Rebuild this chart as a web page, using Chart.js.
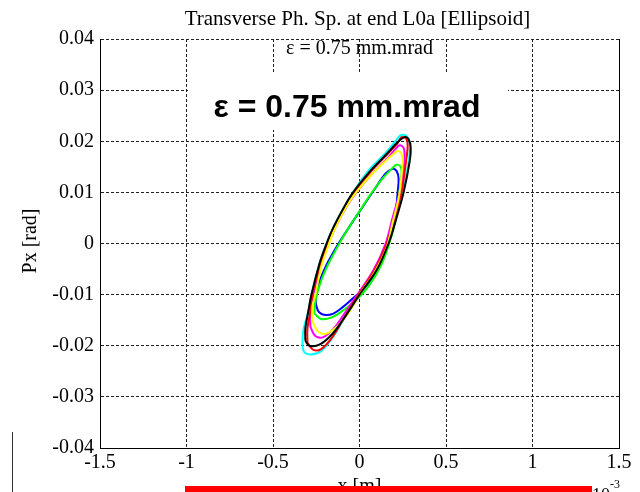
<!DOCTYPE html>
<html>
<head>
<meta charset="utf-8">
<script src="https://cdn.jsdelivr.net/npm/chart.js@4"></script>
<style>
html, body { margin: 0; padding: 0; background: #fff; }
#wrap { position: relative; width: 640px; height: 492px; }
</style>
</head>
<body>
<div id="wrap"><canvas id="phaseChart" width="640" height="492"></canvas></div>
<script>
// x in units of 1e-3 m (axis multiplier shown bottom right), y in rad
const xTicks = [-1.5, -1, -0.5, 0, 0.5, 1, 1.5];
const xTickLabels = ['-1.5', '-1', '-0.5', '0', '0.5', '1', '1.5'];
const yTicks = [-0.04, -0.03, -0.02, -0.01, 0, 0.01, 0.02, 0.03, 0.04];
const yTickLabels = ['-0.04', '-0.03', '-0.02', '-0.01', '0', '0.01', '0.02', '0.03', '0.04'];

const titleText = 'Transverse Ph. Sp. at end L0a [Ellipsoid]';
const subtitleText = 'ε = 0.75 mm.mrad';
const boxText = 'ε = 0.75 mm.mrad';

const cyanX = [-0.330,-0.325,-0.296,-0.278,-0.232,-0.197,-0.157,-0.099,-0.041,0.046,0.145,0.203,0.238,0.272,0.290,0.284,0.249,0.209,0.162,0.093,-0.006,-0.087,-0.157,-0.220,-0.278,-0.319,-0.330];
const cyanY = [-0.0200,-0.0171,-0.0133,-0.0100,-0.0040,-0.0006,0.0027,0.0065,0.0098,0.0140,0.0175,0.0198,0.0212,0.0210,0.0194,0.0160,0.0100,0.0050,0,-0.0052,-0.0100,-0.0146,-0.0185,-0.0210,-0.0217,-0.0213,-0.0200];

const blackX = [-0.313,-0.313,-0.296,-0.278,-0.232,-0.197,-0.157,-0.099,-0.041,0.058,0.157,0.220,0.261,0.284,0.296,0.290,0.255,0.214,0.168,0.099,0.000,-0.081,-0.157,-0.232,-0.290,-0.313];
const blackY = [-0.0190,-0.0167,-0.0133,-0.0100,-0.0040,-0.0006,0.0027,0.0065,0.0098,0.0140,0.0175,0.0198,0.0208,0.0204,0.0188,0.0160,0.0100,0.0050,0,-0.0052,-0.0100,-0.0142,-0.0177,-0.0198,-0.0200,-0.0190];

const redX = [-0.301,-0.301,-0.284,-0.272,-0.226,-0.191,-0.151,-0.093,-0.035,0.064,0.162,0.220,0.243,0.272,0.278,0.267,0.243,0.203,0.157,0.087,-0.006,-0.087,-0.157,-0.220,-0.267,-0.301];
const redY = [-0.0194,-0.0167,-0.0133,-0.0100,-0.0040,-0.0006,0.0027,0.0065,0.0098,0.0140,0.0175,0.0196,0.0208,0.0204,0.0188,0.0156,0.0100,0.0050,0,-0.0052,-0.0100,-0.0144,-0.0183,-0.0206,-0.0208,-0.0194];

const magentaX = [-0.284,-0.284,-0.267,-0.220,-0.186,-0.145,-0.087,-0.023,0.075,0.168,0.209,0.232,0.255,0.261,0.255,0.232,0.191,0.151,0.081,-0.012,-0.087,-0.151,-0.209,-0.255,-0.284];
const magentaY = [-0.0163,-0.0133,-0.0100,-0.0040,-0.0006,0.0027,0.0065,0.0098,0.0137,0.0169,0.0185,0.0192,0.0187,0.0171,0.0146,0.0100,0.0050,0,-0.0052,-0.0100,-0.0137,-0.0167,-0.0183,-0.0181,-0.0163];

const yellowX = [-0.272,-0.272,-0.255,-0.220,-0.186,-0.151,-0.093,-0.029,0.070,0.162,0.197,0.220,0.243,0.249,0.243,0.226,0.191,0.157,0.087,0.000,-0.058,-0.128,-0.197,-0.243,-0.272];
const yellowY = [-0.0152,-0.0123,-0.0100,-0.0044,-0.0010,0.0023,0.0062,0.0096,0.0135,0.0165,0.0175,0.0181,0.0175,0.0160,0.0133,0.0088,0.0040,-0.0008,-0.0056,-0.0100,-0.0133,-0.0162,-0.0177,-0.0171,-0.0152];

const greenX = [-0.261,-0.255,-0.232,-0.197,-0.157,-0.110,-0.058,0.000,0.064,0.128,0.180,0.214,0.238,0.243,0.232,0.214,0.174,0.128,0.058,-0.017,-0.087,-0.157,-0.220,-0.261];
const greenY = [-0.0137,-0.0113,-0.0083,-0.0052,-0.0025,0.0004,0.0033,0.0063,0.0096,0.0125,0.0144,0.0154,0.0150,0.0137,0.0104,0.0054,0.0002,-0.0040,-0.0081,-0.0110,-0.0129,-0.0144,-0.0148,-0.0137];

const blueX = [-0.255,-0.249,-0.232,-0.197,-0.151,-0.099,-0.041,0.035,0.099,0.151,0.186,0.209,0.220,0.226,0.214,0.191,0.151,0.087,0.017,-0.058,-0.128,-0.191,-0.232,-0.255];
const blueY = [-0.0106,-0.0123,-0.0135,-0.0140,-0.0137,-0.0125,-0.0108,-0.0085,-0.0054,-0.0017,0.0021,0.0060,0.0098,0.0127,0.0142,0.0146,0.0137,0.0106,0.0071,0.0033,-0.0004,-0.0042,-0.0075,-0.0106];

function toPoints(xs, ys) {
    return xs.map((x, i) => ({ x: x, y: ys[i] }));
}

function curve(xs, ys, color, order) {
    return {
        data: toPoints(xs, ys),
        borderColor: color,
        borderWidth: 2,
        showLine: true,
        pointRadius: 0,
        tension: 0.35,
        order: order
    };
}

// titles, labels and the white box are drawn on top of the plot
const overlay = {
    id: 'overlay',
    afterDraw(chart) {
        const ctx = chart.ctx;
        const area = chart.chartArea;
        const cx = chart.scales.x.getPixelForValue(0);
        ctx.save();

        // solid right frame
        ctx.strokeStyle = '#000';
        ctx.lineWidth = 1;
        ctx.beginPath();
        ctx.moveTo(Math.round(area.right) + 0.5, area.top);
        ctx.lineTo(Math.round(area.right) + 0.5, area.bottom);
        ctx.stroke();

        ctx.fillStyle = '#000';
        ctx.textAlign = 'center';
        ctx.textBaseline = 'middle';
        ctx.font = '21px "Liberation Serif"';
        ctx.fillText(titleText, cx - 2, 19);

        ctx.font = '20px "Liberation Serif"';
        ctx.fillText(subtitleText, cx, area.top + 10);

        // white label box
        ctx.fillStyle = '#fff';
        ctx.fillRect(188, 72, 320, 58);
        ctx.fillStyle = '#000';
        ctx.font = 'bold 32px "Liberation Sans"';
        ctx.fillText(boxText, 347, 108);

        // y axis title
        ctx.save();
        ctx.translate(31, 241);
        ctx.rotate(-Math.PI / 2);
        ctx.font = '20px "Liberation Serif"';
        ctx.fillText('Px [rad]', 0, 0);
        ctx.restore();

        // x axis title, partly hidden by the red bar
        ctx.textBaseline = 'top';
        ctx.font = '20px "Liberation Serif"';
        ctx.fillText('x [m]', cx, 477);

        ctx.textAlign = 'left';
        ctx.font = '18px "Liberation Serif"';
        ctx.fillText('10', 592, 487);
        ctx.font = '12px "Liberation Serif"';
        ctx.fillText('-3', 610, 479);

        ctx.fillStyle = '#ff0000';
        ctx.fillRect(185, 486, 407, 6);

        ctx.strokeStyle = '#333';
        ctx.beginPath();
        ctx.moveTo(12.5, 432);
        ctx.lineTo(12.5, 492);
        ctx.stroke();

        ctx.restore();
    }
};

const ctx = document.getElementById('phaseChart').getContext('2d');
const phaseChart = new Chart(ctx, {
    type: 'scatter',
    data: {
        datasets: [
            curve(blackX, blackY, '#000000', 1),
            curve(yellowX, yellowY, '#ffff00', 2),
            curve(redX, redY, '#ff0000', 3),
            curve(magentaX, magentaY, '#ff00ff', 4),
            curve(greenX, greenY, '#00ff00', 5),
            curve(blueX, blueY, '#0000ff', 6),
            curve(cyanX, cyanY, '#00ffff', 7)
        ]
    },
    options: {
        responsive: false,
        animation: false,
        events: [],
        layout: { padding: { top: 39, right: 21, left: 0, bottom: 0 } },
        plugins: {
            legend: { display: false },
            tooltip: { enabled: false },
            title: { display: false }
        },
        scales: {
            x: {
                type: 'linear',
                min: -1.5,
                max: 1.5,
                afterBuildTicks: s => { s.ticks = xTicks.map(v => ({ value: v })); },
                afterFit: s => { s.height = 44; },
                ticks: {
                    color: '#000',
                    padding: 3,
                    maxRotation: 0,
                    font: { family: 'Liberation Serif', size: 20 },
                    callback: (v, i) => xTickLabels[i]
                },
                grid: { color: '#222', lineWidth: 1, drawTicks: false },
                border: { display: true, color: '#000', width: 1, dash: [3, 2] }
            },
            y: {
                type: 'linear',
                min: -0.04,
                max: 0.04,
                afterBuildTicks: s => { s.ticks = yTicks.map(v => ({ value: v })); },
                afterFit: s => { s.width = 100; },
                ticks: {
                    color: '#000',
                    padding: 6,
                    font: { family: 'Liberation Serif', size: 20 },
                    callback: (v, i) => yTickLabels[i]
                },
                grid: { color: '#222', lineWidth: 1, drawTicks: false },
                border: { display: true, color: '#000', width: 1, dash: [3, 2] }
            }
        }
    },
    plugins: [overlay]
});
</script>
</body>
</html>
